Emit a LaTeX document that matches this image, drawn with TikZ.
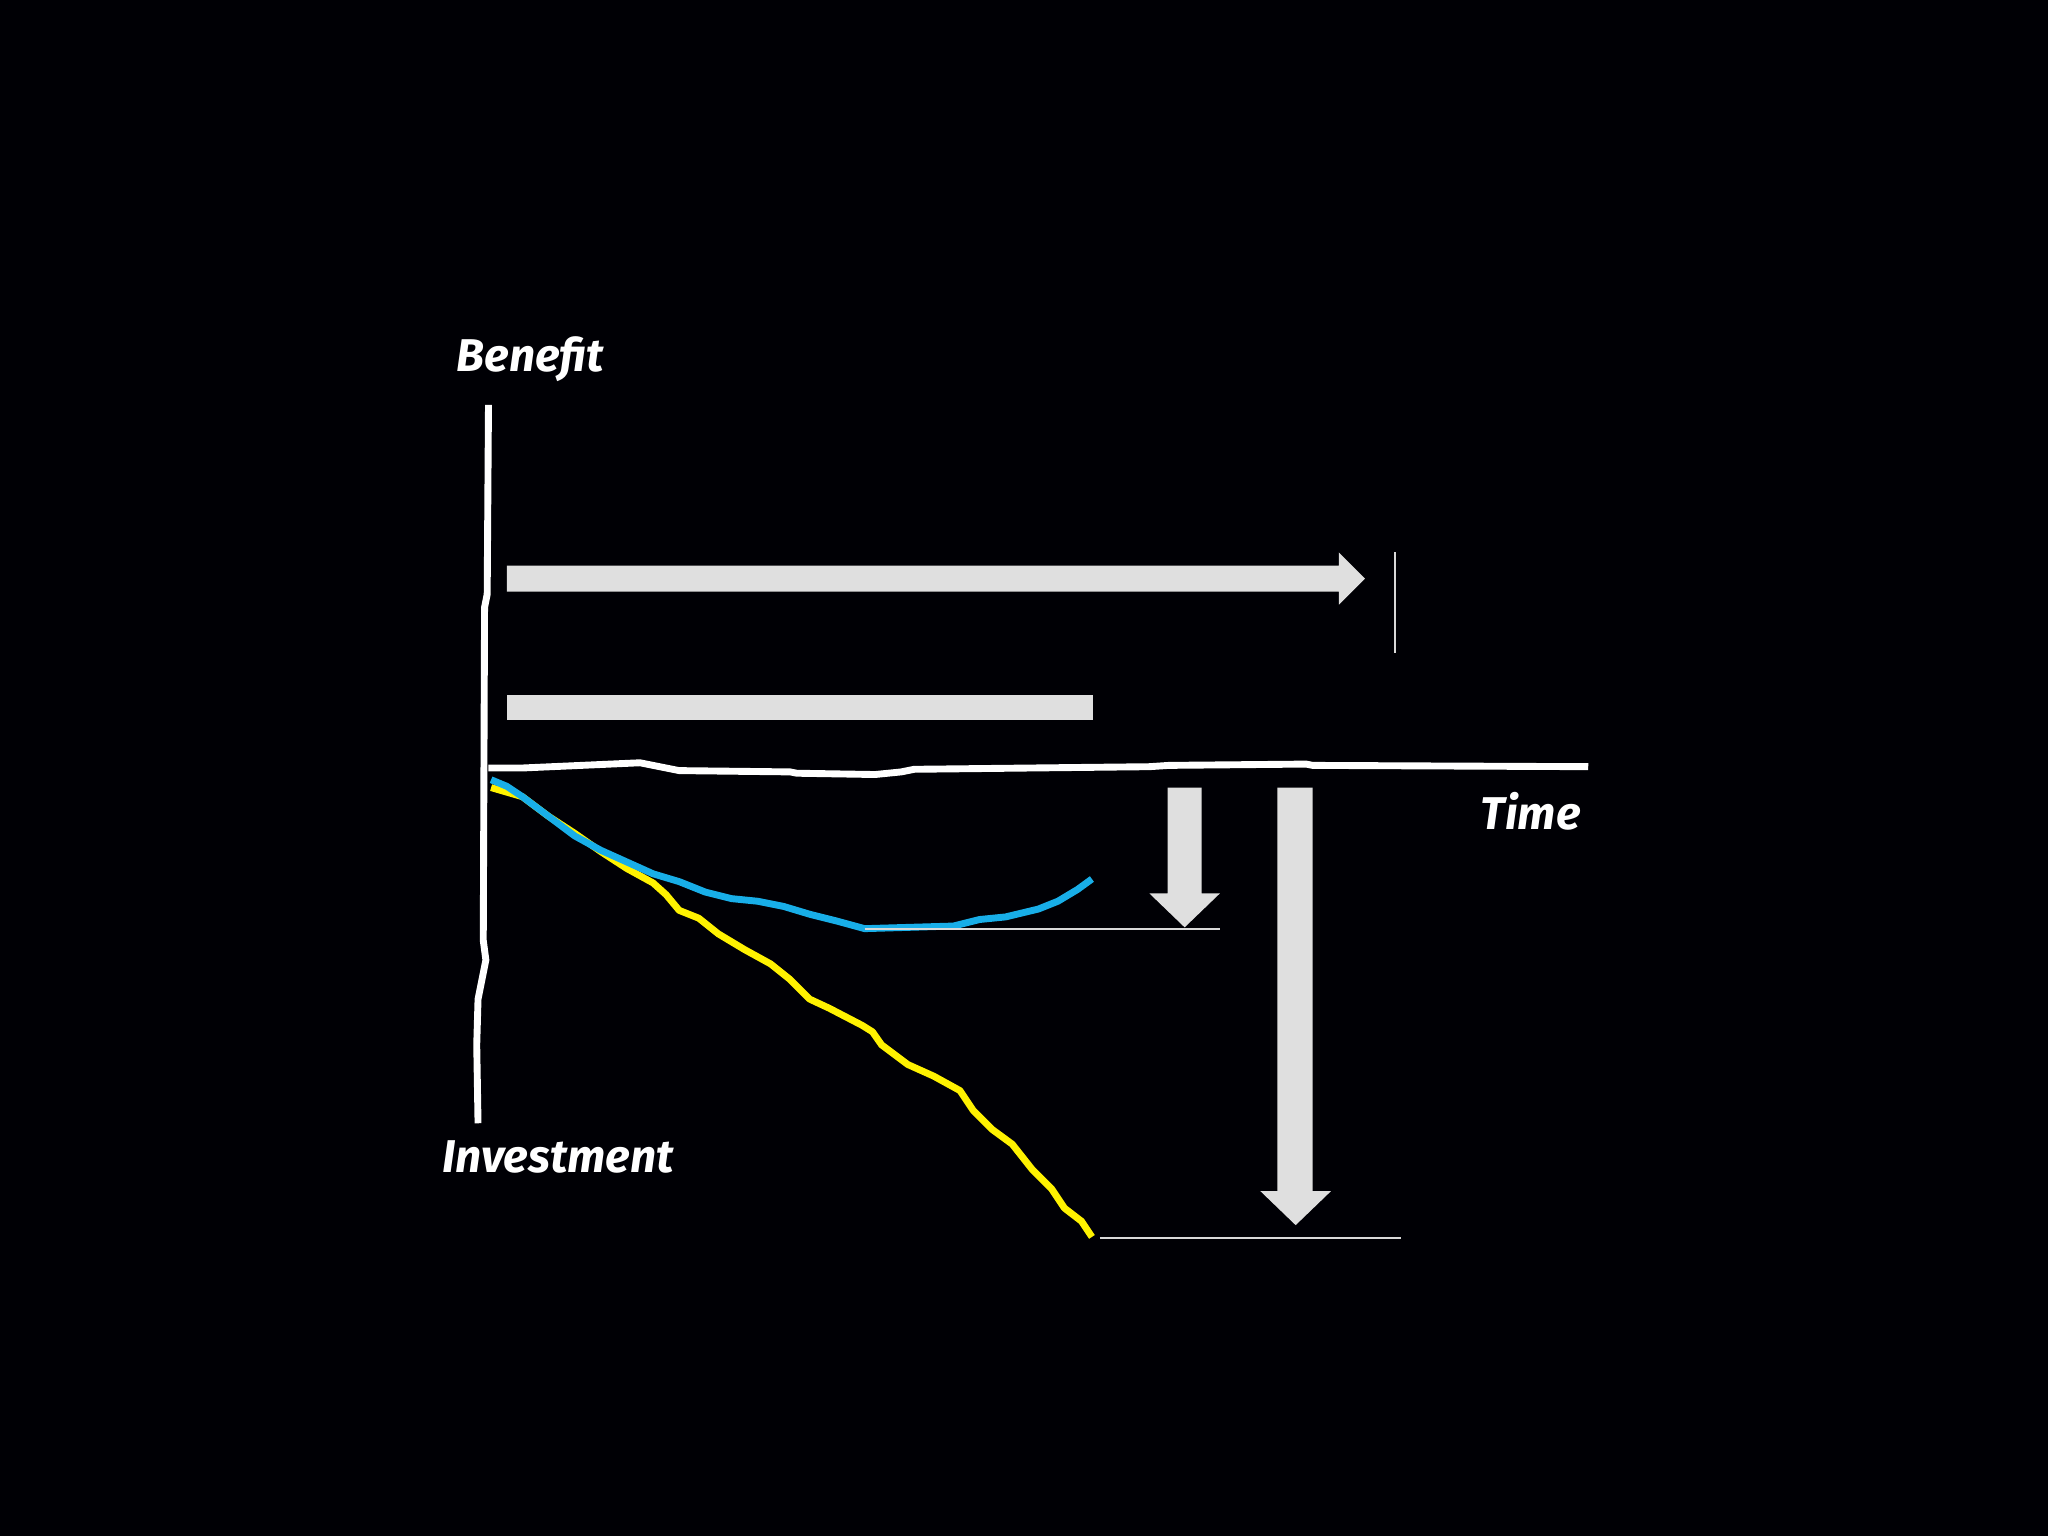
\documentclass[tikz,border=0pt]{standalone}
\usepackage{fontspec}
\setmainfont{Fira Sans}
\definecolor{cblue}{HTML}{18AEE8}
\definecolor{cyel}{HTML}{FFF200}
\begin{document}
\begin{tikzpicture}[x=0.01cm,y=-0.01cm,
  lbl/.style={text=white,font=\bfseries\itshape\fontsize{10}{12}\selectfont},
  gbar/.style={fill=gray!25!white,draw=none},
  axis/.style={draw=white,line width=1.5pt,line join=round},
  thin/.style={draw=white!85!black,line width=0.4pt}]
\fill[black!98!blue] (0,0) rectangle (1568,1176);
\useasboundingbox (0,0) rectangle (1568,1176);
% axes
\draw[axis] (374,310) -- (373,455) -- (371,465) -- (370,720) -- (372,735) -- (366,765) -- (365,800) -- (366,860);
\draw[axis] (374,588) -- (400,588) -- (490,584) -- (500,586) -- (520,590) -- (605,591) -- (610,592) -- (670,593) -- (690,591) -- (700,589) -- (880,587) -- (895,586) -- (1000,585) -- (1005,586) -- (1216,587);
% curves
\draw[cyel,line width=1.5pt,line join=round] (376,603) -- (400,610) -- (420,625) -- (440,638) -- (460,652) -- (480,665) -- (500,676) -- (510,685) -- (520,697) -- (535,703) -- (550,715) -- (570,727) -- (590,738) -- (605,750) -- (620,765) -- (635,772) -- (660,785) -- (668,790) -- (675,800) -- (695,815) -- (715,824) -- (735,835) -- (745,850) -- (760,865) -- (775,876) -- (790,895) -- (805,910) -- (815,925) -- (828,935) -- (836,947);
\draw[cblue,line width=1.5pt,line join=round] (376,597) -- (388,602) -- (400,610) -- (420,625) -- (440,640) -- (460,651) -- (480,660) -- (500,669) -- (520,675) -- (540,683) -- (560,688) -- (580,690) -- (600,694) -- (620,700) -- (640,705) -- (662,711) -- (730,709) -- (750,704) -- (770,702) -- (795,696) -- (810,690) -- (825,681) -- (836,673);
% arrows
\fill[gbar] (388,433) -- (1025,433) -- (1025,423) -- (1045,443) -- (1025,463) -- (1025,453) -- (388,453) -- cycle;
\fill[gbar] (388,532) rectangle (837,551);
\fill[gbar] (894,603) -- (920,603) -- (920,684) -- (934,684) -- (907,710) -- (880,684) -- (894,684) -- cycle;
\fill[gbar] (978,603) -- (1005,603) -- (1005,912) -- (1019,912) -- (992,938) -- (965,912) -- (978,912) -- cycle;
\draw[thin] (1068,423) -- (1068,500);
\draw[thin] (662,711) -- (934,711);
\draw[thin] (842,948) -- (1073,948);
% labels
\node[lbl] (benefit) at (406,275) {Benefit};
\node[lbl] (invest) at (427,886) {Investment};
\node[lbl] (time) at (1172,621) {Time};
\end{tikzpicture}
\end{document}
